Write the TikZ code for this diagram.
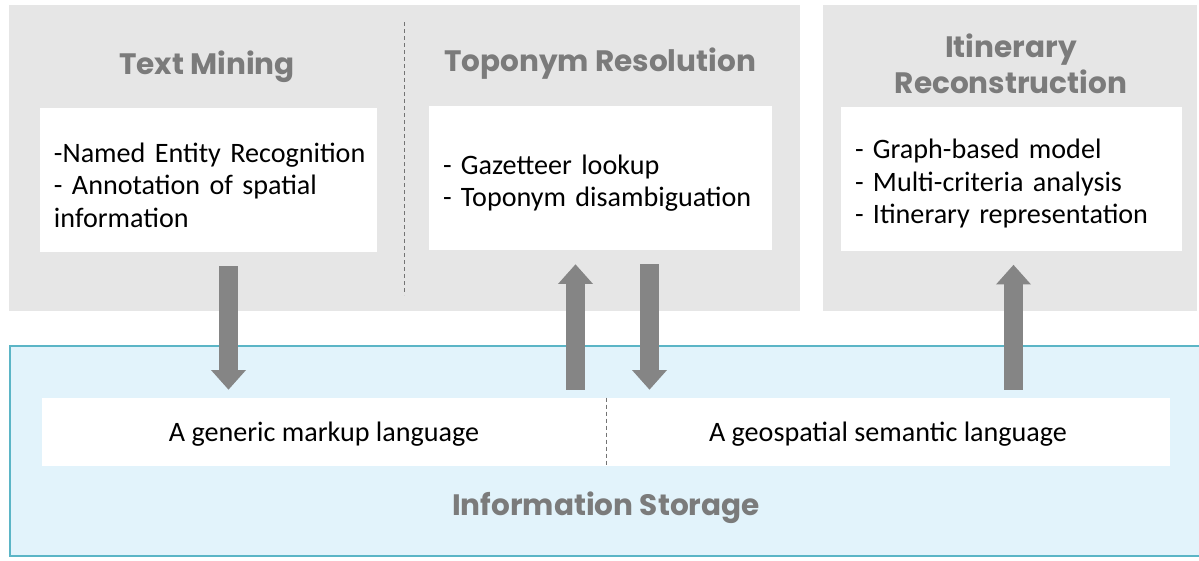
\documentclass[tikz,border=0pt]{standalone}
\usepackage{fontspec}
\setmainfont{Carlito}
\newfontfamily\headfont{Poppins}
\usetikzlibrary{arrows.meta}
\newdimen\px \px=0.025cm
\definecolor{panelgray}{HTML}{E6E6E6}
\definecolor{headgray}{HTML}{7B7B7B}
\definecolor{arrowgray}{HTML}{858585}
\definecolor{storefill}{HTML}{E2F3FB}
\definecolor{storeline}{HTML}{5BB5C6}
\tikzset{
  card/.style={fill=white, align=left, inner xsep=14\px, inner ysep=0pt, minimum height=144\px, text height=21pt, font={\fontsize{20}{23}\selectfont}},
  lang/.style={fill=white, inner sep=0pt, minimum width=564\px, minimum height=68\px, text depth=0pt, font={\fontsize{20}{23}\selectfont}},
  head/.style={text=headgray, align=center, font={\headfont\bfseries\fontsize{21}{26}\selectfont}},
  divider/.style={draw=black!55, line width=0.6pt, dash pattern=on 4\px off 3\px},
  flow/.style={draw=arrowgray, line width=13.5pt, -{Triangle[width=24pt,length=14pt]}},
  flowdown/.style={flow, shorten <=14\px, shorten >=8\px},
  flowup/.style={flow, shorten <=8\px, shorten >=14\px}
}
\begin{document}
\begin{tikzpicture}[x=0.025cm, y=-0.025cm]
        \useasboundingbox (0,0) rectangle (1199,560);
        % panels
        \fill[panelgray] (9,5) rectangle (800,311);
        \fill[panelgray] (823,5) rectangle (1197,311);
        \filldraw[fill=storefill, draw=storeline, line width=2pt] (10,346) rectangle (1210,556);
        \draw[divider] (404,22) -- (404,295);
        % titles
        \node[head] (tmhead) at (207,67) {Text Mining};
        \node[head] (trhead) at (600,64) {Toponym Resolution};
        \node[head] (irhead) at (1011,64) {Itinerary\\Reconstruction};
        \node[head] (ishead) at (606,508) {Information Storage};
        % boxes
        \node[card, text width=309\px] (tm) at (208.5,180) {\mbox{-Named Entity Recognition}\\- Annotation of spatial\\information};
        \node[card, text width=315\px] (tr) at (600.5,178) {- Gazetteer lookup\\- Toponym disambiguation};
        \node[card, text width=313\px] (ir) at (1011.5,178.5) {- Graph-based model\\- Multi-criteria analysis\\- Itinerary representation};
        \node[lang] (mkp) at (324,432) {A generic markup language};
        \node[lang] (geo) at (888,432) {A geospatial semantic language};
        \draw[divider] (mkp.north east) -- (mkp.south east);
        % arrows
        \draw[flowdown] ([xshift=20\px]tm.south) coordinate (a1) -- (a1 |- mkp.north);
        \draw[flowup] ([xshift=-25\px]tr.south |- mkp.north) -- ([xshift=-25\px]tr.south);
        \draw[flowdown] ([xshift=49\px]tr.south) coordinate (a3) -- (a3 |- geo.north);
        \draw[flowup] ([xshift=2\px]ir.south |- geo.north) -- ([xshift=2\px]ir.south);
\end{tikzpicture}
\end{document}
